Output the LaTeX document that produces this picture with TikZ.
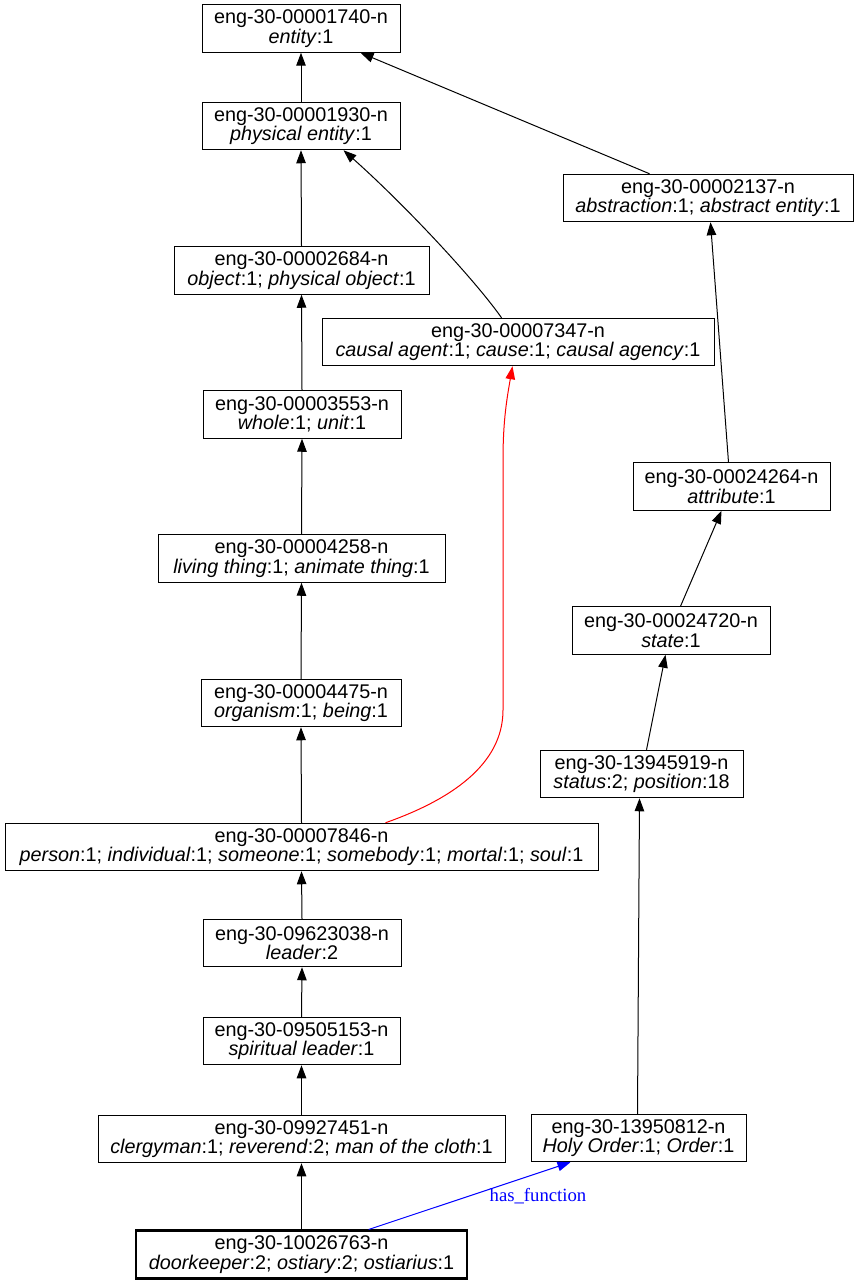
\documentclass[tikz,border=0pt]{standalone}
\usepackage{fontspec}
\setmainfont{Liberation Sans}
\newfontfamily\labelface{Liberation Serif}
\usetikzlibrary{arrows.meta,calc}

\tikzset{
  syn/.style={draw=black, line width=1pt, rectangle, inner sep=0pt,
    minimum height=47.5pt, align=center,
    font=\fontsize{19.8}{19.5}\selectfont},
  focus/.style={syn, line width=2.6pt},
  hyper/.style={draw=black, line width=1pt,
    -{Triangle[length=13pt,width=9.5pt]}},
  role/.style={hyper, draw=red, -{Triangle[length=13pt,width=9.5pt,fill=red]}},
  func/.style={hyper, draw=blue, -{Triangle[length=13pt,width=9.5pt,fill=blue]}},
  funclabel/.style={text=blue, inner sep=0pt, font=\labelface\fontsize{18.7}{19}\selectfont},
}

\begin{document}
\begin{tikzpicture}[x=1pt, y=-1pt]
\useasboundingbox (0,0) rectangle (859,1284);

% synsets
\node[syn, minimum width=198] (n1740) at (301,28.5)
  {eng-30-00001740-n\\\textit{entity}:1};
\node[syn, minimum width=198] (n1930) at (301,126)
  {eng-30-00001930-n\\\textit{physical entity}:1};
\node[syn, minimum width=290] (n2137) at (708,198)
  {eng-30-00002137-n\\\textit{abstraction}:1; \textit{abstract entity}:1};
\node[syn, minimum width=255] (n2684) at (301.5,270.5)
  {eng-30-00002684-n\\\textit{object}:1; \textit{physical object}:1};
\node[syn, minimum width=392] (n7347) at (518,342)
  {eng-30-00007347-n\\\textit{causal agent}:1; \textit{cause}:1; \textit{causal agency}:1};
\node[syn, minimum width=198] (n3553) at (302,414.5)
  {eng-30-00003553-n\\\textit{whole}:1; \textit{unit}:1};
\node[syn, minimum width=197] (n24264) at (731.5,486.5)
  {eng-30-00024264-n\\\textit{attribute}:1};
\node[syn, minimum width=287] (n4258) at (301.5,558.5)
  {eng-30-00004258-n\\\textit{living thing}:1; \textit{animate thing}:1};
\node[syn, minimum width=198] (n24720) at (671,630.5)
  {eng-30-00024720-n\\\textit{state}:1};
\node[syn, minimum width=200] (n4475) at (301,703)
  {eng-30-00004475-n\\\textit{organism}:1; \textit{being}:1};
\node[syn, minimum width=203] (n13945919) at (641.5,774)
  {eng-30-13945919-n\\\textit{status}:2; \textit{position}:18};
\node[syn, minimum width=593] (n7846) at (301.5,847)
  {eng-30-00007846-n\\\textit{person}:1; \textit{individual}:1; \textit{someone}:1; \textit{somebody}:1; \textit{mortal}:1; \textit{soul}:1};
\node[syn, minimum width=198] (n9623038) at (302,943)
  {eng-30-09623038-n\\\textit{leader}:2};
\node[syn, minimum width=197] (n9505153) at (301.5,1041)
  {eng-30-09505153-n\\\textit{spiritual leader}:1};
\node[syn, minimum width=407] (n9927451) at (301.5,1139)
  {eng-30-09927451-n\\\textit{clergyman}:1; \textit{reverend}:2; \textit{man of the cloth}:1};
\node[syn, minimum width=215] (n13950812) at (638.5,1138)
  {eng-30-13950812-n\\\textit{Holy Order}:1; \textit{Order}:1};
\node[focus, minimum width=331] (n10026763) at (301.5,1254.5)
  {eng-30-10026763-n\\\textit{doorkeeper}:2; \textit{ostiary}:2; \textit{ostiarius}:1};

% hypernym links
\draw[hyper] (n1930.north) -- (n1740.south);
\draw[hyper] ($(n2137.north west)+(87,0)$) -- ($(n1740.south west)+(159,0)$);
\draw[hyper] (n2684.north) -- (n1930.south);
\draw[hyper] ($(n7347.north west)+(180,0)$)
  .. controls (475,280) and (405,205) .. ($(n1930.south west)+(142,0)$);
\draw[hyper] (n3553.north) -- (n2684.south);
\draw[hyper] ($(n24264.north west)+(96,0)$) -- ($(n2137.south west)+(148,0)$);
\draw[hyper] (n4258.north) -- (n3553.south);
\draw[hyper] ($(n24720.north west)+(109,0)$) -- ($(n24264.south west)+(89,0)$);
\draw[hyper] (n4475.north) -- (n4258.south);
\draw[hyper] ($(n13945919.north west)+(107,0)$) -- ($(n24720.south west)+(94,0)$);
\draw[hyper] (n7846.north) -- (n4475.south);
\draw[hyper] (n9623038.north) -- (n7846.south);
\draw[hyper] (n9505153.north) -- (n9623038.south);
\draw[hyper] (n9927451.north) -- (n9505153.south);
\draw[hyper] ($(n13950812.north west)+(107,0)$) -- ($(n13945919.south west)+(100,0)$);
\draw[hyper] (n10026763.north) -- (n9927451.south);

% person as causal agent
\draw[role] ($(n7846.north west)+(381,0)$)
  .. controls (450,800) and (503,765) .. (503,710)
  -- (503,460)
  .. controls (503,420) and (507,398) .. ($(n7347.south west)+(191,0)$);

% functional relation
\draw[func] ($(n10026763.north west)+(234,0)$) -- ($(n13950812.south west)+(40,0)$);
\node[funclabel] (hasfn) at (538,1196) {has\_function};

\end{tikzpicture}
\end{document}
